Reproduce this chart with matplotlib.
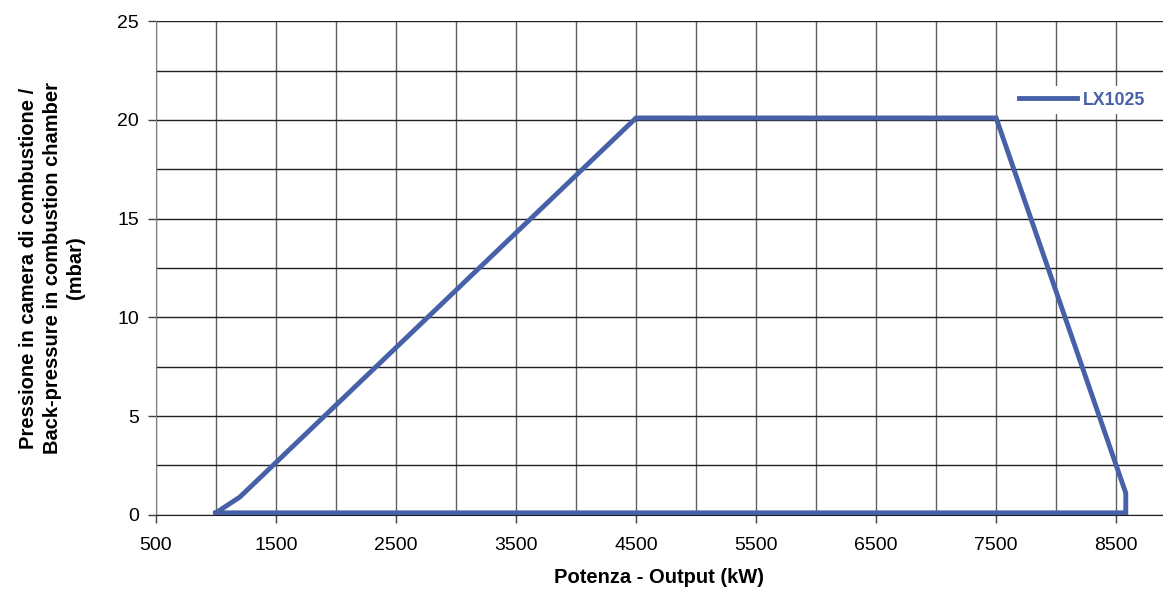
import matplotlib
matplotlib.use("Agg")
import matplotlib.pyplot as plt
import numpy as np

# curve (kW, mbar)
output_kw = [1000, 1200, 4500, 7500, 8580, 8580, 1000]
pressure_mbar = [0.1, 0.9, 20.1, 20.1, 1.1, 0.1, 0.1]
series_name = "LX1025"
x_ticks = [500, 1500, 2500, 3500, 4500, 5500, 6500, 7500, 8500]
y_ticks = [0, 5, 10, 15, 20, 25]

plt.rcParams['font.family'] = ['Liberation Sans', 'DejaVu Sans']

fig = plt.figure(figsize=(11.63, 5.89), dpi=100)
ax = fig.add_axes([0.134, 0.126, 0.866, 0.838])

ax.plot(output_kw, pressure_mbar, color='#4661a8', lw=3.5,
        solid_joinstyle='miter', label=series_name, zorder=3)

ax.set_xlim(500, 8890)
ax.set_ylim(0, 25)
ax.set_xticks(x_ticks)
ax.set_yticks(y_ticks)
ax.set_xticks(np.arange(500, 9000, 500), minor=True)
ax.set_yticks(np.arange(0, 25.1, 2.5), minor=True)
ax.grid(which='both', axis='x', color='#606060', lw=1)
ax.grid(which='both', axis='y', color='#202020', lw=1)
ax.tick_params(axis='both', which='major', labelsize=14, length=6,
               color='#404040', width=1)
ax.tick_params(axis='both', which='minor', length=0)
ax.tick_params(axis='x', pad=10)
ax.tick_params(axis='y', pad=6)

for s in ['top', 'right']:
    ax.spines[s].set_visible(False)
ax.spines['left'].set_color('#808080')
ax.spines['bottom'].set_color('#202020')

ax.set_xlabel("Potenza - Output (kW)", fontsize=14.5, fontweight='bold', labelpad=10)
ax.set_ylabel("Pressione in camera di combustione /\nBack-pressure in combustion chamber\n(mbar)",
              fontsize=14.5, fontweight='bold', labelpad=23, linespacing=1.32)

leg = ax.legend(loc='center left', bbox_to_anchor=(0.8425, 0.84), frameon=True,
                fancybox=False, framealpha=1, edgecolor='none', fontsize=12.8,
                handlelength=3.3, handletextpad=0.3, borderpad=0.3)
for t in leg.get_texts():
    t.set_color('#4661a8')
    t.set_fontweight('bold')

fig.savefig("out.png", dpi=100)
